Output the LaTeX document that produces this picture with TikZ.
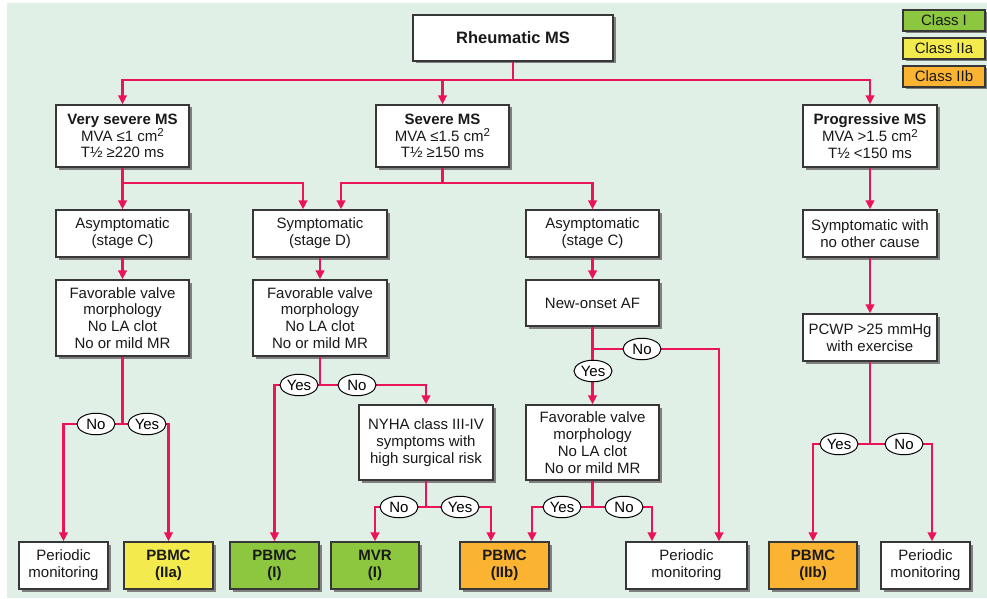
\documentclass[tikz,border=0pt]{standalone}
\usepackage{fontspec}
\setmainfont{Liberation Sans}
\usepackage{xcolor}
\usepackage{tikz}
\usetikzlibrary{shapes.geometric, arrows.meta, positioning, calc, shadows}
\definecolor{bggreen}{RGB}{225, 240, 230}
\definecolor{flowred}{RGB}{236, 20, 88}
\definecolor{boxgray}{RGB}{55, 55, 55}
\definecolor{classone}{RGB}{141, 198, 63}
\definecolor{classtwoa}{RGB}{243, 235, 77}
\definecolor{classtwob}{RGB}{250, 180, 50}
\newcommand{\sqcm}{cm\raisebox{0.55ex}{\fontsize{11.5}{11.5}\selectfont 2}}

\begin{document}
\begin{tikzpicture}[x=1pt, y=-1pt,
    box/.style={draw=boxgray, fill=white, line width=1.3pt, inner sep=0pt, align=center,
          text=black!90, font=\fontsize{15}{16.8}\selectfont,
          drop shadow={shadow xshift=2.5pt, shadow yshift=-2.5pt, fill=black!50, opacity=1}},
    yn/.style={ellipse, draw=black, fill=white, line width=1pt, inner sep=0pt,
          minimum width=38pt, minimum height=21.5pt, font=\fontsize{15}{16.8}\selectfont},
    link/.style={draw=flowred, line width=2.8pt},
    arr/.style={link, -{Triangle[length=9pt, width=8.5pt]}}]
    \useasboundingbox (0,0) rectangle (987,599);
    \fill[bggreen] (7,3) rectangle (987,598);

    % legend
    \node[box, fill=classone, minimum width=82, minimum height=21] (leg1) at (944,20.5) {Class I};
    \node[box, fill=classtwoa, minimum width=82, minimum height=21] (leg2) at (944,48.5) {Class IIa};
    \node[box, fill=classtwob, minimum width=82, minimum height=21] (leg3) at (944,76.5) {Class IIb};

    \node[box, minimum width=200, minimum height=46, font=\fontsize{16.5}{18}\selectfont\bfseries] (rheum) at (513,38) {Rheumatic MS};

    \node[box, minimum width=133, minimum height=62] (vsev) at (122.5,136) {\textbf{Very severe MS}\\MVA ≤1 \sqcm\\T½ ≥220 ms};
    \node[box, minimum width=133, minimum height=62] (sev) at (442.5,136) {\textbf{Severe MS}\\MVA ≤1.5 \sqcm\\T½ ≥150 ms};
    \node[box, minimum width=134, minimum height=62] (prog) at (870,136) {\textbf{Progressive MS}\\MVA >1.5 \sqcm\\T½ <150 ms};

    \node[box, minimum width=133, minimum height=47] (asc1) at (122.5,233.5) {Asymptomatic\\(stage C)};
    \node[box, minimum width=134, minimum height=47] (symd) at (320,233.5) {Symptomatic\\(stage D)};
    \node[box, minimum width=133, minimum height=47] (asc2) at (592.5,233.5) {Asymptomatic\\(stage C)};
    \node[box, minimum width=134, minimum height=47] (symo) at (870,233.5) {Symptomatic with\\no other cause};

    \node[box, minimum width=133, minimum height=76] (fav1) at (122.5,318) {Favorable valve\\morphology\\No LA clot\\No or mild MR};
    \node[box, minimum width=134, minimum height=76] (fav2) at (320,318) {Favorable valve\\morphology\\No LA clot\\No or mild MR};
    \node[box, minimum width=133, minimum height=46] (af) at (592.5,303) {New-onset AF};
    \node[box, minimum width=134, minimum height=47] (pcwp) at (870,337.5) {PCWP >25 mmHg\\with exercise};

    \node[box, minimum width=134, minimum height=75] (nyha) at (426,442.5) {NYHA class III-IV\\symptoms with\\high surgical risk};
    \node[box, minimum width=133, minimum height=75] (fav3) at (592.5,442.5) {Favorable valve\\morphology\\No LA clot\\No or mild MR};

    \node[box, minimum width=89, minimum height=47] (pm1) at (63.5,565.5) {Periodic\\monitoring};
    \node[box, fill=classtwoa, minimum width=89, minimum height=47] (pb1) at (168.5,565.5) {\textbf{PBMC}\\\textbf{(IIa)}};
    \node[box, fill=classone, minimum width=89, minimum height=47] (pb2) at (274.5,565.5) {\textbf{PBMC}\\\textbf{(I)}};
    \node[box, fill=classone, minimum width=88, minimum height=47] (mvr) at (375,565.5) {\textbf{MVR}\\\textbf{(I)}};
    \node[box, fill=classtwob, minimum width=89, minimum height=47] (pb3) at (504.5,565.5) {\textbf{PBMC}\\\textbf{(IIb)}};
    \node[box, minimum width=121, minimum height=47] (pm2) at (686.5,565.5) {Periodic\\monitoring};
    \node[box, fill=classtwob, minimum width=88, minimum height=47] (pb4) at (813,565.5) {\textbf{PBMC}\\\textbf{(IIb)}};
    \node[box, minimum width=89, minimum height=47] (pm3) at (925.5,565.5) {Periodic\\monitoring};

    % connectors
    \draw[link] (rheum.south) -- (513,80) coordinate (jr);
    \draw[arr] (jr) -| (vsev.north);
    \draw[arr] (jr) -| (sev.north);
    \draw[arr] (jr) -| (prog.north);

    \draw[link] (vsev.south) -- (122.5,183) coordinate (jv);
    \draw[arr] (jv) -- (asc1.north);
    \draw[arr] (jv) -| ([xshift=-17]symd.north);
    \draw[link] (sev.south) -- (442.5,183) coordinate (js);
    \draw[arr] (js) -| ([xshift=21]symd.north);
    \draw[arr] (js) -| (asc2.north);
    \draw[arr] (prog) -- (symo);

    \draw[arr] (asc1) -- (fav1);
    \draw[arr] (symd) -- (fav2);
    \draw[arr] (asc2) -- (af);
    \draw[arr] (symo) -- (pcwp);

    \draw[link] (fav1.south) -- (122.5,424) coordinate (j1);
    \draw[arr] (j1) -| (pm1.north);
    \draw[arr] (j1) -| (pb1.north);

    \draw[link] (fav2.south) -- (320,385) coordinate (j2);
    \draw[arr] (j2) -| (pb2.north);
    \draw[arr] (j2) -| (nyha.north);
    \draw[link] (nyha.south) -- (426,507) coordinate (j3);
    \draw[arr] (j3) -| (mvr.north);
    \draw[arr] (j3) -| ([xshift=-13.5]pb3.north);

    \draw[arr] (af) -- (fav3);
    \coordinate (j4) at (592.5,349);
    \draw[arr] (j4) -| ([xshift=32.5]pm2.north);
    \draw[link] (fav3.south) -- (592.5,507) coordinate (j5);
    \draw[arr] (j5) -| ([xshift=27.5]pb3.north);
    \draw[arr] (j5) -| ([xshift=-34.5]pm2.north);

    \draw[link] (pcwp.south) -- (870,444) coordinate (j6);
    \draw[arr] (j6) -| (pb4.north);
    \draw[arr] (j6) -| ([xshift=6.5]pm3.north);

    % yes / no labels
    \node[yn] (no1) at (96,424) {No};
    \node[yn] (yes1) at (147,424) {Yes};
    \node[yn] (yes2) at (299,385) {Yes};
    \node[yn] (no2) at (357,385) {No};
    \node[yn] (no3) at (399,507) {No};
    \node[yn] (yes3) at (460,507) {Yes};
    \node[yn] (no4) at (642,349) {No};
    \node[yn] (yes4) at (593,371) {Yes};
    \node[yn] (yes5) at (562,507) {Yes};
    \node[yn] (no5) at (624,507) {No};
    \node[yn] (yes6) at (839,444) {Yes};
    \node[yn] (no6) at (904,444) {No};
\end{tikzpicture}
\end{document}
